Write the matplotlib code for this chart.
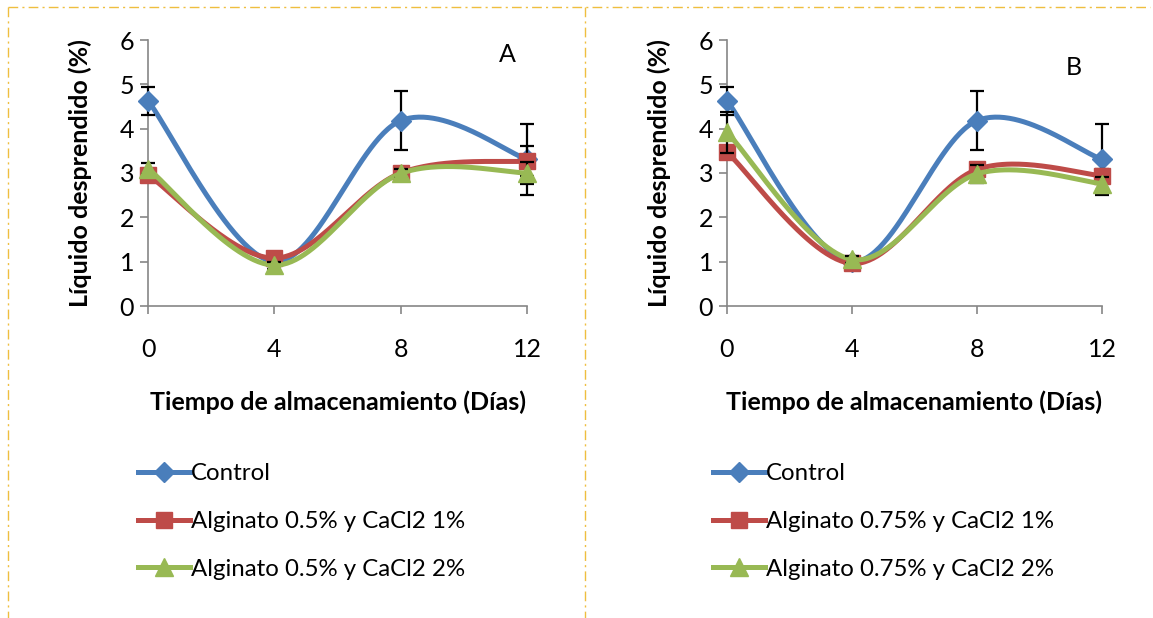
import numpy as np
import matplotlib
matplotlib.use("Agg")
import matplotlib.pyplot as plt
from matplotlib.lines import Line2D

plt.rcParams['font.family'] = ['Lato', 'DejaVu Sans']

days = [0, 4, 8, 12]
day_labels = ["0", "4", "8", "12"]

# Panel A
control_a = [4.63, 1.00, 4.18, 3.31]
control_a_err = [0.32, 0.10, 0.66, 0.80]
alg05_cacl1 = [2.96, 1.08, 3.00, 3.27]
alg05_cacl1_err = [0.10, 0.10, 0.10, 0.33]
alg05_cacl2 = [3.10, 0.92, 2.99, 3.00]
alg05_cacl2_err = [0.12, 0.08, 0.10, 0.25]

# Panel B
control_b = [4.63, 1.00, 4.18, 3.31]
control_b_err = [0.32, 0.10, 0.66, 0.80]
alg075_cacl1 = [3.47, 0.96, 3.08, 2.94]
alg075_cacl1_err = [0.12, 0.08, 0.10, 0.15]
alg075_cacl2 = [3.92, 1.05, 2.98, 2.76]
alg075_cacl2_err = [0.46, 0.08, 0.20, 0.15]

labels_a = ["Control", "Alginato 0.5% y CaCl2 1%", "Alginato 0.5% y CaCl2 2%"]
labels_b = ["Control", "Alginato 0.75% y CaCl2 1%", "Alginato 0.75% y CaCl2 2%"]

BLUE = "#4A7EBB"
RED = "#BE4B48"
GREEN = "#98B954"
AXIS_GRAY = "#868686"
BORDER = "#EFBE3F"

styles = [
    dict(color=BLUE, marker="D", ms=10.5),
    dict(color=RED, marker="s", ms=12),
    dict(color=GREEN, marker="^", ms=13),
]

FS = 18


def smooth_curve(x, y, n=60):
    """Bezier smoothing with Catmull-Rom style control points (tension 1/6)."""
    pts = np.column_stack([x, y]).astype(float)
    m = len(pts)
    out = []
    for i in range(m - 1):
        p0 = pts[max(i - 1, 0)]
        p1 = pts[i]
        p2 = pts[i + 1]
        p3 = pts[min(i + 2, m - 1)]
        c1 = p1 + (p2 - p0) / 6.0
        c2 = p2 - (p3 - p1) / 6.0
        t = np.linspace(0, 1, n)[:, None]
        seg = ((1 - t) ** 3) * p1 + 3 * ((1 - t) ** 2) * t * c1 \
            + 3 * (1 - t) * t ** 2 * c2 + t ** 3 * p2
        out.append(seg if i == 0 else seg[1:])
    out = np.vstack(out)
    return out[:, 0], out[:, 1]


fig = plt.figure(figsize=(11.53, 6.18), dpi=100)

W, H = 1153.0, 618.0


def make_panel(left_px, right_px, series, errs, letter, letter_pos, labels, leg_x):
    ax = fig.add_axes([left_px / W, 1 - 306 / H, (right_px - left_px) / W, 266 / H])
    for k, (vals, err) in enumerate(zip(series, errs)):
        st = styles[k]
        z = 3 + k
        sx, sy = smooth_curve(days, vals)
        ax.plot(sx, sy, color=st["color"], lw=3.6, solid_capstyle="round",
                zorder=z, clip_on=False)
        ax.errorbar(days, vals, yerr=err, fmt="none", ecolor="black",
                    elinewidth=1.6, capsize=5, capthick=1.6, zorder=z,
                    clip_on=False)
        ax.plot(days, vals, linestyle="none", marker=st["marker"],
                ms=st["ms"], color=st["color"], mec=st["color"],
                zorder=z + 0.5, clip_on=False)
    ax.set_xlim(0, 12)
    ax.set_ylim(0, 6)
    ax.set_xticks(days)
    ax.set_xticklabels(day_labels)
    ax.set_yticks(range(0, 7))
    for s in ["top", "right"]:
        ax.spines[s].set_visible(False)
    for s in ["left", "bottom"]:
        ax.spines[s].set_color(AXIS_GRAY)
        ax.spines[s].set_linewidth(1.2)
    ax.tick_params(axis="both", colors=AXIS_GRAY, length=6, width=1.2,
                   labelsize=FS, labelcolor="black")
    ax.tick_params(axis="x", pad=17)
    ax.tick_params(axis="y", pad=4)
    ax.set_ylabel("Líquido desprendido (%)", fontsize=FS, fontweight="bold",
                  labelpad=20)
    ax.set_xlabel("Tiempo de almacenamiento (Días)", fontsize=FS,
                  fontweight="bold", labelpad=21)
    ax.text(letter_pos[0], letter_pos[1], letter, fontsize=FS, ha="center",
            va="center")

    handles = [Line2D([0], [0], color=st["color"], lw=3.6, marker=st["marker"],
                      ms=st["ms"], mec=st["color"])
               for st in styles]
    fig.legend(handles, labels, loc="upper left",
               bbox_to_anchor=(leg_x / W, 1 - 463 / H), frameon=False,
               fontsize=17.3, handlelength=2.15, handletextpad=0.05,
               labelspacing=1.12, borderaxespad=0, borderpad=0)
    return ax


make_panel(148, 527, [control_a, alg05_cacl1, alg05_cacl2],
           [control_a_err, alg05_cacl1_err, alg05_cacl2_err],
           "A", (11.37, 5.67), labels_a, 138)
make_panel(727, 1102, [control_b, alg075_cacl1, alg075_cacl2],
           [control_b_err, alg075_cacl1_err, alg075_cacl2_err],
           "B", (11.1, 5.37), labels_b, 713)

# Dash-dot frames around the two chart areas
frame_kw = dict(color=BORDER, lw=1.0, linestyle=(0, (7, 3, 1.5, 3)),
                transform=fig.transFigure)
fig.add_artist(Line2D([8 / W, 1150 / W], [1 - 7 / H, 1 - 7 / H], **frame_kw))
fig.add_artist(Line2D([8 / W, 8 / W], [1 - 7 / H, 0], **frame_kw))
fig.add_artist(Line2D([585 / W, 585 / W], [1 - 7 / H, 0], **frame_kw))

fig.savefig("out.png", dpi=100, facecolor="white")
